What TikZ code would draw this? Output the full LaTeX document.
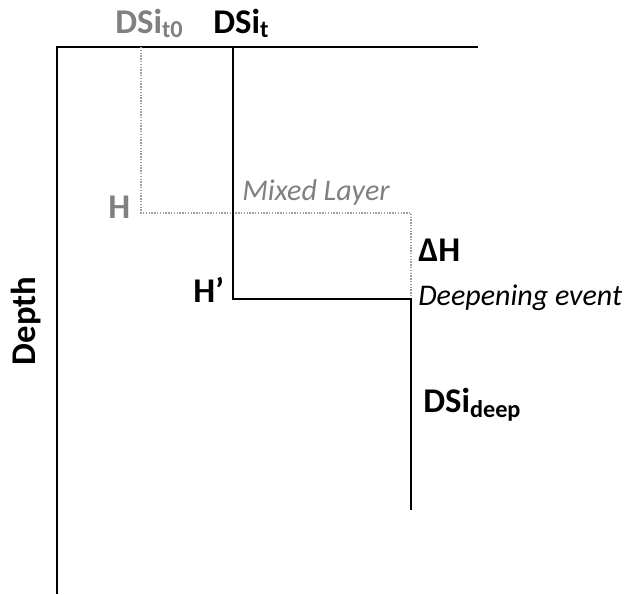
\documentclass[tikz,border=0pt]{standalone}
\usepackage{fontspec}
\setmainfont{Carlito}
\begin{document}
\begin{tikzpicture}[x=0.75pt,y=-0.75pt,
  lbl/.style={font=\bfseries\fontsize{26}{30}\selectfont, inner sep=0pt},
  note/.style={font=\itshape\fontsize{22.5}{26}\selectfont, inner sep=0pt},
  old/.style={gray}]
\useasboundingbox (0,0) rectangle (625,594);
% axes
\draw [line width=1.1pt] (478,47) -- (57,47) -- (57,594);
% mixed layer before and after
\draw [gray!75, densely dotted, line width=1.1pt] (141,47) -- (141,213) -- (411,213) -- (411,298);
\draw [line width=1.5pt] (233,47) -- (233,299) -- (411,299) -- (411,510);
% labels
\node (dsi0) [lbl, old, anchor=base west] at (115,33) {DSi\textsubscript{t0}};
\node (dsit) [lbl, anchor=base west] at (213,33) {DSi\textsubscript{t}};
\node (h) [lbl, old, anchor=base west] at (108,218) {H};
\node (mixed) [note, old, anchor=base west] at (242,200) {Mixed Layer};
\node (dh) [lbl, anchor=base west] at (418,261) {ΔH};
\node (hp) [lbl, anchor=base west] at (193,302) {H’};
\node (deep) [note, anchor=base west] at (418,305) {Deepening event};
\node (dsid) [lbl, anchor=base west] at (423,412) {DSi\textsubscript{deep}};
\node (depth) [lbl, rotate=90, anchor=base] at (36,321) {Depth};
\end{tikzpicture}
\end{document}
